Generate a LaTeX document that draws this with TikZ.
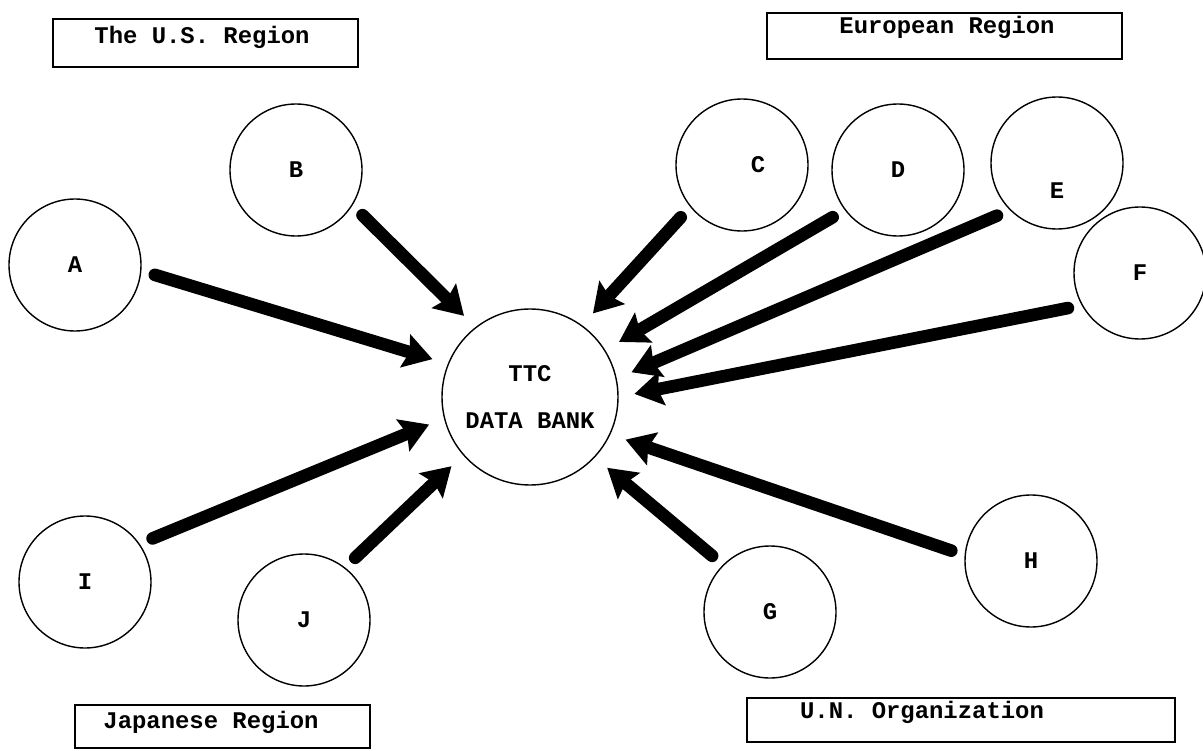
\documentclass[tikz,border=0pt]{standalone}
\usepackage{fontspec}
\setmainfont{Liberation Mono}
\usetikzlibrary{arrows.meta}

\begin{document}
\begin{tikzpicture}
            [>={Stealth[length=20pt,width=24pt,inset=3pt]}, shorten >=0.4cm, shorten <=0.35cm, line width=1pt,
             font=\fontsize{17}{20}\selectfont\bfseries,
             flow/.style={->, line width=9pt, line cap=round}]
            \useasboundingbox (0,0) rectangle (30.075,18.75);
            \node[shape=circle,draw=black,minimum size=3.3cm] (A) at (1.875,12.125) {A};
            \node[shape=circle,draw=black,minimum size=3.3cm] (B) at (7.4,14.5) {B};
            \node[shape=circle,draw=black,minimum size=3.3cm,label={[xshift=0.4cm]center:C}] (C) at (18.55,14.625) {};
            \node[shape=circle,draw=black,minimum size=3.3cm] (D) at (22.45,14.5) {D};
            \node[shape=circle,draw=black,minimum size=3.3cm,label={[yshift=-0.7cm]center:E}] (E) at (26.425,14.675) {};
            \node[shape=circle,draw=black,minimum size=3.3cm] (F) at (28.5,11.925) {F};
            \node[shape=circle,draw=black,minimum size=3.3cm] (G) at (19.25,3.45) {G};
            \node[shape=circle,draw=black,minimum size=3.3cm] (H) at (25.775,4.725) {H};
            \node[shape=circle,draw=black,minimum size=3.3cm] (I) at (2.125,4.2) {I};
            \node[shape=circle,draw=black,minimum size=3.3cm] (J) at (7.6,3.25) {J};
            \node[shape=circle,draw=black,minimum size=4.4cm,align=center] (ttc) at (13.25,8.825) {TTC\hspace{1.3em}\\[13pt]DATA BANK};

            % region labels
            \node[shape=rectangle,draw=black,line width=1.5pt,minimum width=7.625cm,minimum height=1.2cm] (usbox) at (5.1375,17.675) {};
            \node (us) at (5.05,17.825) {The U.S. Region};
            \node[shape=rectangle,draw=black,line width=1.5pt,minimum width=8.875cm,minimum height=1.15cm] (eubox) at (23.6125,17.85) {};
            \node (eu) at (23.675,18.075) {European Region};
            \node[shape=rectangle,draw=black,line width=1.5pt,minimum width=7.375cm,minimum height=1.075cm] (jpbox) at (5.5625,0.5875) {};
            \node (jp) at (5.275,0.7) {Japanese Region};
            \node[shape=rectangle,draw=black,line width=1.5pt,minimum width=10.7cm,minimum height=1.1cm] (unbox) at (24.025,0.75) {};
            \node (un) at (23.05,0.95) {U.N. Organization};

            \path [flow] (A.355) edge (ttc.158);
            \path [flow] (B.328) edge (ttc.128);
            \path [flow] (C.219) edge (ttc.54);
            \path [flow] (D.217) edge (ttc.32);
            \path [flow] (E.225) edge (ttc.12);
            \path [flow] (F.209) edge (ttc.0);
            \path [flow] (G.135) edge (ttc.317);
            \path [flow] (H.175) edge (ttc.335);
            \path [flow] (I.35) edge (ttc.194);
            \path [flow] (J.52) edge (ttc.221);
        \end{tikzpicture}
\end{document}
